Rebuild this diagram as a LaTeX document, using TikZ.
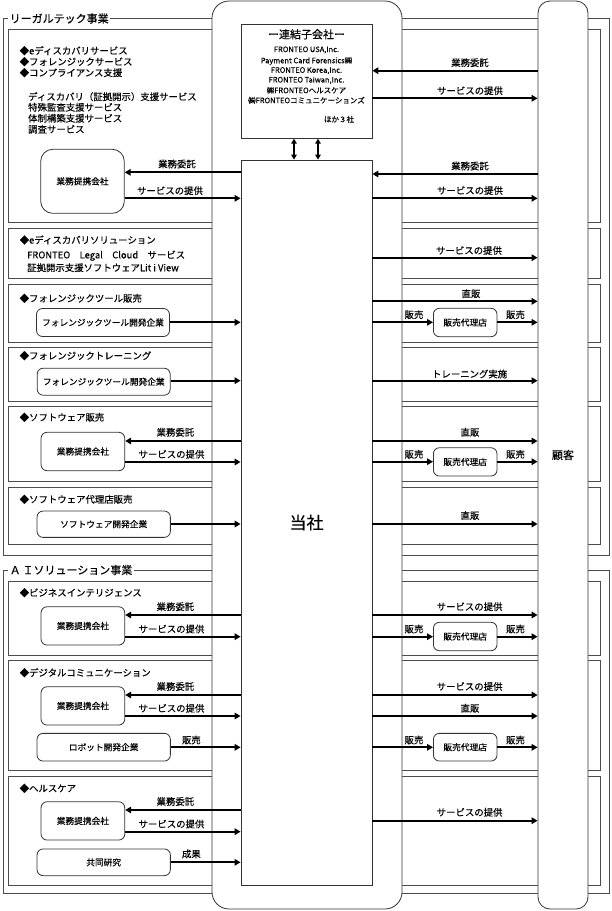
\documentclass[tikz,border=0pt]{standalone}
\usepackage{fontspec}
\setmainfont{Noto Sans CJK JP}[FakeBold=0.3]
\usetikzlibrary{arrows.meta}
\newcommand{\fsz}{\fontsize{9.4}{11}\selectfont}
\newcommand{\fbx}{\fontsize{8.7}{10}\selectfont}
\newcommand{\fsm}{\fontsize{7.5}{9}\selectfont}
\newcommand{\fbig}{\fontsize{11}{13}\selectfont}
\tikzset{
  frame/.style={draw=black!70, line width=0.8pt},
  sec/.style={draw=black!70, line width=0.8pt},
  flabel/.style={anchor=west, fill=white, inner xsep=1.5pt, inner ysep=1pt, font=\fbig},
  bigbox/.style={draw=black!80, line width=0.8pt, fill=white, inner sep=0pt},
  rbox/.style={draw=black!80, line width=0.8pt, fill=white, rounded corners=6pt, inner sep=0pt, font=\fbx},
  arr/.style={line width=2.2pt, -{Triangle[length=6pt,width=6.5pt]}},
  dblarr/.style={line width=1.8pt, {Triangle[length=5pt,width=5.5pt]}-{Triangle[length=5pt,width=5.5pt]}},
  lbl/.style={font=\fsz, inner sep=0pt},
  txt/.style={font=\fsz, inner sep=0pt, anchor=west},
  sub/.style={font=\fsm, inner sep=0pt},
}
\begin{document}
\begin{tikzpicture}[x=1pt,y=-1pt]
\useasboundingbox (0,0) rectangle (611,911);
% group frames
\draw[frame] (3,18.5) rectangle (609,555);
\node[flabel] (legalT) at (8,18.5) {リーガルテック事業};
\draw[frame] (3,570) rectangle (609,893);
\node[flabel] (aiT) at (8,570) {Ａ\,Ｉソリューション事業};
% section boxes
\draw[sec] (8,29) rectangle (600,222);
\draw[sec] (8,228) rectangle (600,278);
\draw[sec] (8,284) rectangle (600,342);
\draw[sec] (8,347) rectangle (600,401.5);
\draw[sec] (8,406) rectangle (600,481);
\draw[sec] (8,487) rectangle (600,544);
\draw[sec] (8,581) rectangle (600,655);
\draw[sec] (8,660) rectangle (600,770);
\draw[sec] (8,776) rectangle (600,885);
% big columns
\node[bigbox, rounded corners=17pt, minimum width=190pt, minimum height=908pt] (mid) at (307,455) {};
\node[bigbox, rounded corners=12pt, minimum width=50pt, minimum height=908pt, font=\fbig] (cust) at (563,455) {顧客};
\node[bigbox, minimum width=131pt, minimum height=114pt] (subs) at (306.5,81.3) {};
\node[bigbox, minimum width=131pt, minimum height=725pt, font=\fontsize{17}{19}\selectfont] (tosha) at (306.5,522.5) {当社};
% subsidiaries text
\node[font=\fbig, inner sep=0pt] (subsT) at (306.5,34.3) {ー連結子会社ー};
\node[sub] (sl1) at (306.5,50) {FRONTEO USA,Inc.};
\node[sub] (sl2) at (306.5,61) {Payment Card Forensics㈱};
\node[sub] (sl3) at (306.5,70.7) {FRONTEO Korea,Inc.};
\node[sub] (sl4) at (306.5,80.3) {FRONTEO Taiwan,Inc.};
\node[sub] (sl5) at (306.5,90.3) {㈱FRONTEOヘルスケア};
\node[sub] (sl6) at (306.5,100.3) {㈱FRONTEOコミュニケーションズ};
\node[sub] (sl7) at (339,119.3) {ほか３社};
\draw[dblarr] (subs.south -| 294,0) -- (tosha.north -| 294,0);
\draw[dblarr] (subs.south -| 318,0) -- (tosha.north -| 318,0);
% ---------- section 1
\node[txt] (t1a) at (19.5,50.7) {◆eディスカバリサービス};
\node[txt] (t1b) at (19.5,61.7) {◆フォレンジックサービス};
\node[txt] (t1c) at (19.5,72.7) {◆コンプライアンス支援};
\node[txt] (t1d) at (28,96.7) {ディスカバリ（証拠開示）支援サービス};
\node[txt] (t1e) at (28,107.3) {特殊監査支援サービス};
\node[txt] (t1f) at (28,118.3) {体制構築支援サービス};
\node[txt] (t1g) at (28,129.3) {調査サービス};
\node[rbox, rounded corners=12pt, minimum width=83.6pt, minimum height=64pt] (p1) at (82.5,181.3) {業務提携会社};
\draw[arr] (tosha.west |- 0,172.3) -- (p1.east |- 0,172.3);
\node[lbl] (l1a) at (177,164) {業務委託};
\draw[arr] (p1.east |- 0,198.3) -- (tosha.west |- 0,198.3);
\node[lbl] (l1b) at (170,190.7) {サービスの提供};
\draw[arr] (cust.west |- 0,70.7) -- (subs.east |- 0,70.7);
\node[lbl] (l1c) at (470,62.7) {業務委託};
\draw[arr] (subs.east |- 0,98.3) -- (cust.west |- 0,98.3);
\node[lbl] (l1d) at (470,90.7) {サービスの提供};
\draw[arr] (cust.west |- 0,174) -- (tosha.east |- 0,174);
\node[lbl] (l1e) at (470,166) {業務委託};
\draw[arr] (tosha.east |- 0,198.3) -- (cust.west |- 0,198.3);
\node[lbl] (l1f) at (470,190.5) {サービスの提供};
% ---------- section 2
\node[txt] (t2a) at (19.5,240) {◆eディスカバリソリューション};
\node[txt] (t2b) at (27,255.7) {FRONTEO　Legal　Cloud　サービス};
\node[txt] (t2c) at (27,267.7) {証拠開示支援ソフトウェアLit i View};
\draw[arr] (tosha.east |- 0,257.7) -- (cust.west |- 0,257.7);
\node[lbl] (l2a) at (469,250.5) {サービスの提供};
% ---------- section 3
\node[txt] (t3a) at (19.5,298.3) {◆フォレンジックツール販売};
\node[rbox, minimum width=133pt, minimum height=28pt] (f3) at (103,322.5) {フォレンジックツール開発企業};
\draw[arr] (f3.east |- 0,322.3) -- (tosha.west |- 0,322.3);
\draw[arr] (tosha.east |- 0,301.3) -- (cust.west |- 0,301.3);
\node[lbl] (l3a) at (471,293.7) {直販};
\node[rbox, minimum width=63.6pt, minimum height=28.4pt] (d3) at (465.2,322.5) {販売代理店};
\draw[arr] (tosha.east |- 0,322.3) -- (d3.west |- 0,322.3);
\node[lbl] (l3b) at (414,314.7) {販売};
\draw[arr] (d3.east |- 0,322.3) -- (cust.west |- 0,322.3);
\node[lbl] (l3c) at (515.5,314.7) {販売};
% ---------- section 4
\node[txt] (t4a) at (19.5,355.7) {◆フォレンジックトレーニング};
\node[rbox, minimum width=133pt, minimum height=27pt] (f4) at (103.7,381.7) {フォレンジックツール開発企業};
\draw[arr] (f4.east |- 0,380.7) -- (tosha.west |- 0,380.7);
\draw[arr] (tosha.east |- 0,380.7) -- (cust.west |- 0,380.7);
\node[lbl] (l4a) at (469.6,374) {トレーニング実施};
% ---------- section 5
\node[txt] (t5a) at (19.5,417.3) {◆ソフトウェア販売};
\node[rbox, minimum width=83.7pt, minimum height=38.4pt] (p5) at (82.9,451.5) {業務提携会社};
\draw[arr] (tosha.west |- 0,441) -- (p5.east |- 0,441);
\node[lbl] (l5a) at (175.4,432.3) {業務委託};
\draw[arr] (p5.east |- 0,462) -- (tosha.west |- 0,462);
\node[lbl] (l5b) at (171.5,454.3) {サービスの提供};
\draw[arr] (tosha.east |- 0,441) -- (cust.west |- 0,441);
\node[lbl] (l5c) at (470,432.3) {直販};
\node[rbox, minimum width=63.6pt, minimum height=28.3pt] (d5) at (465.2,461.9) {販売代理店};
\draw[arr] (tosha.east |- 0,461.7) -- (d5.west |- 0,461.7);
\node[lbl] (l5d) at (414,454.3) {販売};
\draw[arr] (d5.east |- 0,461.7) -- (cust.west |- 0,461.7);
\node[lbl] (l5e) at (515.5,454.3) {販売};
% ---------- section 6
\node[txt] (t6a) at (19.5,499.3) {◆ソフトウェア代理店販売};
\node[rbox, minimum width=133.3pt, minimum height=26.3pt] (s6) at (103.7,524.2) {ソフトウェア開発企業};
\draw[arr] (s6.east |- 0,524) -- (tosha.west |- 0,524);
\draw[arr] (tosha.east |- 0,524) -- (cust.west |- 0,524);
\node[lbl] (l6a) at (470,515.5) {直販};
% ---------- section 7
\node[txt] (t7a) at (19.5,592.7) {◆ビジネスインテリジェンス};
\node[rbox, minimum width=83.7pt, minimum height=38.3pt] (p7) at (82.9,625.9) {業務提携会社};
\draw[arr] (tosha.west |- 0,615) -- (p7.east |- 0,615);
\node[lbl] (l7a) at (175.4,606.7) {業務委託};
\draw[arr] (p7.east |- 0,636.7) -- (tosha.west |- 0,636.7);
\node[lbl] (l7b) at (171.5,629) {サービスの提供};
\draw[arr] (tosha.east |- 0,615) -- (cust.west |- 0,615);
\node[lbl] (l7c) at (469.6,606.7) {サービスの提供};
\node[rbox, minimum width=63.6pt, minimum height=28.4pt] (d7) at (465.2,636.5) {販売代理店};
\draw[arr] (tosha.east |- 0,636.7) -- (d7.west |- 0,636.7);
\node[lbl] (l7d) at (414,629) {販売};
\draw[arr] (d7.east |- 0,636.7) -- (cust.west |- 0,636.7);
\node[lbl] (l7e) at (515.5,629) {販売};
% ---------- section 8
\node[txt] (t8a) at (19.5,672.7) {◆デジタルコミュニケーション};
\node[rbox, minimum width=83.7pt, minimum height=38.3pt] (p8) at (82.9,705.9) {業務提携会社};
\draw[arr] (tosha.west |- 0,695) -- (p8.east |- 0,695);
\node[lbl] (l8a) at (175.4,686.5) {業務委託};
\draw[arr] (p8.east |- 0,716) -- (tosha.west |- 0,716);
\node[lbl] (l8b) at (171.5,708.3) {サービスの提供};
\node[rbox, minimum width=133.3pt, minimum height=27.7pt] (r8) at (103.7,747.2) {ロボット開発企業};
\draw[arr] (r8.east |- 0,747.3) -- (tosha.west |- 0,747.3);
\node[lbl] (l8c) at (191.4,740) {販売};
\draw[arr] (tosha.east |- 0,695) -- (cust.west |- 0,695);
\node[lbl] (l8d) at (469.6,686.5) {サービスの提供};
\draw[arr] (tosha.east |- 0,716) -- (cust.west |- 0,716);
\node[lbl] (l8e) at (470,708.3) {直販};
\node[rbox, minimum width=63.6pt, minimum height=27.7pt] (d8) at (465.2,747.2) {販売代理店};
\draw[arr] (tosha.east |- 0,747.3) -- (d8.west |- 0,747.3);
\node[lbl] (l8f) at (414,740) {販売};
\draw[arr] (d8.east |- 0,747.3) -- (cust.west |- 0,747.3);
\node[lbl] (l8g) at (515.5,740) {販売};
% ---------- section 9
\node[txt] (t9a) at (19.5,788.3) {◆ヘルスケア};
\node[rbox, minimum width=83.7pt, minimum height=38.3pt] (p9) at (82.9,820.9) {業務提携会社};
\draw[arr] (tosha.west |- 0,810) -- (p9.east |- 0,810);
\node[lbl] (l9a) at (175.4,801.5) {業務委託};
\draw[arr] (p9.east |- 0,831.7) -- (tosha.west |- 0,831.7);
\node[lbl] (l9b) at (171.5,824) {サービスの提供};
\node[rbox, minimum width=133.3pt, minimum height=26.7pt] (j9) at (103.7,862.3) {共同研究};
\draw[arr] (j9.east |- 0,862.3) -- (tosha.west |- 0,862.3);
\node[lbl] (l9c) at (191.4,854) {成果};
\draw[arr] (tosha.east |- 0,820.7) -- (cust.west |- 0,820.7);
\node[lbl] (l9d) at (469.6,812.3) {サービスの提供};
\end{tikzpicture}
\end{document}
